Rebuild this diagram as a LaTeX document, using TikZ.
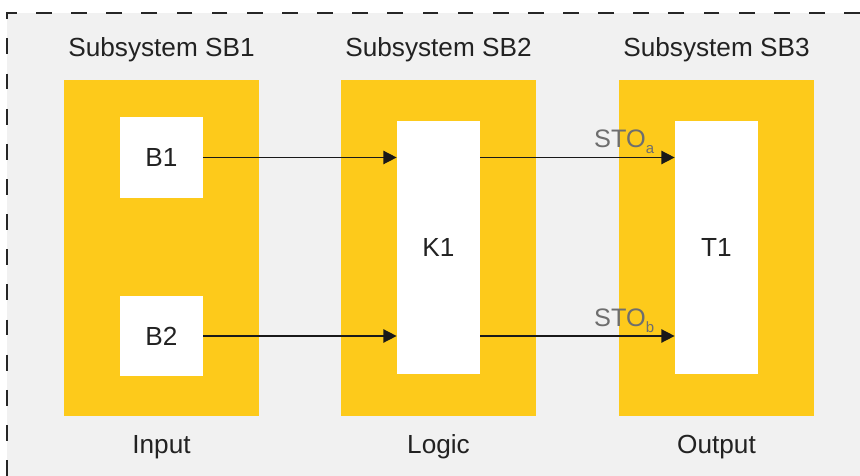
\documentclass[tikz,border=0pt]{standalone}
\usepackage{fontspec}
\setmainfont{Liberation Sans}
\usepackage{xcolor}
\usetikzlibrary{arrows.meta, positioning}

\definecolor{sbyellow}{RGB}{253,202,27}
\definecolor{framegray}{RGB}{241,241,241}
\definecolor{textdark}{RGB}{34,34,34}
\definecolor{stogray}{RGB}{110,110,110}

\newcommand{\stosub}[1]{\raisebox{-0.45ex}{\fontsize{8.5}{9}\selectfont #1}}

\begin{document}
\begin{tikzpicture}[
  x=0.02cm, y=-0.02cm,
  >={Triangle[length=7.5pt,width=7.5pt]},
  subsys/.style={rectangle, fill=sbyellow, inner sep=0pt,
                 minimum width=3.9cm, minimum height=6.72cm},
  part/.style={rectangle, fill=white, inner sep=0pt,
               minimum width=1.66cm, font=\fontsize{14.9}{18}\selectfont, text=textdark},
  title/.style={font=\fontsize{14.9}{18}\selectfont, text=textdark, inner sep=0pt},
  flow/.style={->, line width=0.85pt, black!90},
  sto/.style={font=\fontsize{14.4}{17}\selectfont, text=stogray, inner sep=1.5pt}
]
  \useasboundingbox (0,0) rectangle (860,476);
  \fill[framegray] (7,13) rectangle (860,476);
  \draw[black!85, line width=1pt, dash pattern=on 9pt off 11pt]
        (860,13) -- (7,13) -- (7,476);

  % subsystems
  \foreach \n/\x/\txt/\role in {SB1/161.5/Subsystem SB1/Input,
                                SB2/438.5/Subsystem SB2/Logic,
                                SB3/716.5/Subsystem SB3/Output} {
    \node[subsys] (\n) at (\x,248) {};
    \node[title] (\n-t) at (\x,50) {\txt};
    \node[title] (\n-r) at (\x,447) {\role};
  }

  \node[part, minimum height=1.62cm] (B1) at (161.5,157.5) {B1};
  \node[part, minimum height=1.6cm]  (B2) at (161.5,336) {B2};
  \node[part, minimum height=5.06cm] (K1) at (438.5,247.5) {K1};
  \node[part, minimum height=5.06cm] (T1) at (716.5,247.5) {T1};

  \draw[flow] (B1.east) -- (B1.east -| K1.west);
  \draw[flow] (B2.east) -- (B2.east -| K1.west);
  \draw[flow] (K1.east |- B1.east) -- (T1.west |- B1.east)
        node[sto, pos=0.74, above] (STOa) {STO\stosub{a}};
  \draw[flow] (K1.east |- B2.east) -- (T1.west |- B2.east)
        node[sto, pos=0.74, above] (STOb) {STO\stosub{b}};
\end{tikzpicture}
\end{document}
